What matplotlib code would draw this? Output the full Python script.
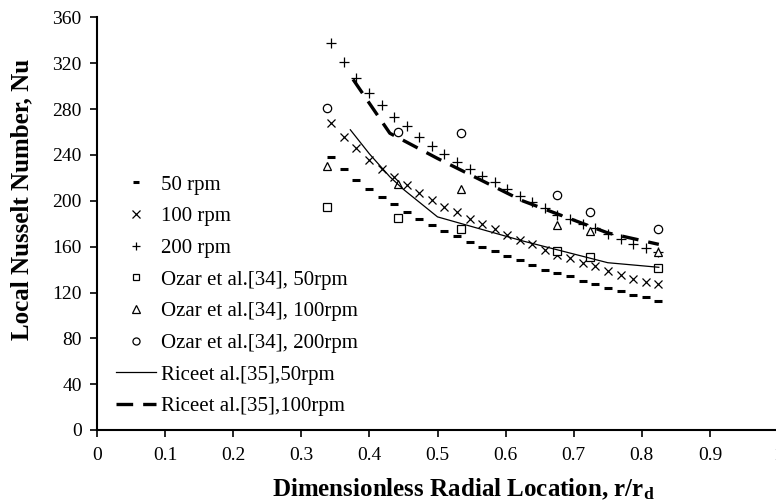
import matplotlib
matplotlib.use("Agg")
import matplotlib.pyplot as plt

plt.rcParams['font.family'] = ['Liberation Serif', 'DejaVu Serif']
plt.rcParams['mathtext.fontset'] = 'custom'
plt.rcParams['mathtext.rm'] = 'Liberation Serif'
plt.rcParams['mathtext.bf'] = 'Liberation Serif:bold'
plt.rcParams['mathtext.it'] = 'Liberation Serif:italic'

# present results, r/rd
r_present = [0.344, 0.362, 0.381, 0.399, 0.418, 0.436, 0.455, 0.473, 0.492,
             0.510, 0.529, 0.547, 0.565, 0.584, 0.602, 0.621, 0.639, 0.658,
             0.676, 0.695, 0.713, 0.732, 0.750, 0.769, 0.787, 0.806, 0.824]
nu_50 = [238, 228, 218, 210, 203, 197, 190, 184, 179, 174, 169, 164, 160, 156,
         152, 148, 144, 140, 137, 134, 130, 127, 124, 121, 118, 116, 113]
nu_100 = [268, 256, 246, 236, 228, 221, 214, 207, 201, 195, 190, 184, 180, 175,
          170, 166, 162, 157, 153, 150, 146, 143, 139, 135, 132, 129, 127]
nu_200 = [338, 321, 307, 294, 284, 273, 265, 256, 248, 241, 234, 228, 222, 216,
          210, 204, 199, 194, 188, 184, 180, 176, 171, 167, 162, 159, 155]

# Ozar et al. [34]
r_ozar = [0.338, 0.442, 0.535, 0.675, 0.724, 0.824]
ozar_50 = [195, 185, 175, 156, 151, 141]
ozar_100 = [230, 215, 210, 179, 174, 155]
ozar_200 = [281, 260, 259, 205, 190, 175]

# Rice et al. [35]
r_rice50 = [0.372, 0.40, 0.43, 0.45, 0.50, 0.625, 0.75, 0.825]
rice_50 = [262, 241, 221, 210, 186, 165, 146, 142]
r_rice100 = [0.376, 0.43, 0.50, 0.625, 0.75, 0.825]
rice_100 = [306, 259, 237, 200, 172, 162]

fig = plt.figure(figsize=(7.76, 5.03), dpi=100)
ax = fig.add_axes([97/776, 1-430/503, 681/776, 412.5/503])

ax.plot(r_present, nu_50, ls='none', marker='_', ms=5.5, mew=2.2, color='black', label='50 rpm')
ax.plot(r_present, nu_100, ls='none', marker='x', ms=6, mew=0.9, color='black', label='100 rpm')
ax.plot(r_present, nu_200, ls='none', marker='+', ms=6.5, mew=0.9, color='black', label='200 rpm')
ax.plot(r_ozar, ozar_50, ls='none', marker='s', ms=5.5, mfc='white', mec='black', mew=0.9,
        label='Ozar et al.[34], 50rpm')
ax.plot(r_ozar, ozar_100, ls='none', marker='^', ms=6, mfc='white', mec='black', mew=0.9,
        label='Ozar et al.[34], 100rpm')
ax.plot(r_ozar, ozar_200, ls='none', marker='o', ms=6, mfc='white', mec='black', mew=0.9,
        label='Ozar et al.[34], 200rpm')
ax.plot(r_rice50, rice_50, ls='-', lw=0.9, color='black', label='Riceet al.[35],50rpm')
ax.plot(r_rice100, rice_100, ls=(0, (5, 3)), lw=2.4, color='black', label='Riceet al.[35],100rpm')

ax.set_xlim(0, 1)
ax.set_ylim(0, 360)
ax.set_xticks([0, 0.1, 0.2, 0.3, 0.4, 0.5, 0.6, 0.7, 0.8, 0.9, 1])
ax.set_xticklabels(['0', '0.1', '0.2', '0.3', '0.4', '0.5', '0.6', '0.7', '0.8', '0.9', '1'])
ax.set_yticks(range(0, 361, 40))
ax.tick_params(direction='out', length=5, width=1.2, labelsize=14, colors='black')
ax.tick_params(axis='x', pad=7)
ax.tick_params(axis='y', pad=6)
for s in ['top', 'right']:
    ax.spines[s].set_visible(False)
for s in ['left', 'bottom']:
    ax.spines[s].set_linewidth(1.5)

fig.text(463/776, 1 - 489/503, r'Dimensionless Radial Location, r/r$_\mathbf{d}$',
         ha='center', va='center', fontsize=18, fontweight='bold')
fig.text(22/776, 1 - 199/503, 'Local Nusselt Number, Nu', rotation=90,
         ha='center', va='center', fontsize=18, fontweight='bold')

ax.legend(loc='upper left', bbox_to_anchor=(116/776, 1 - 175/503), bbox_transform=fig.transFigure,
          frameon=False, fontsize=15, handlelength=1.9, handletextpad=0.25,
          labelspacing=0.58, borderpad=0, borderaxespad=0, markerscale=0.85)

plt.savefig("out.png", dpi=100)
